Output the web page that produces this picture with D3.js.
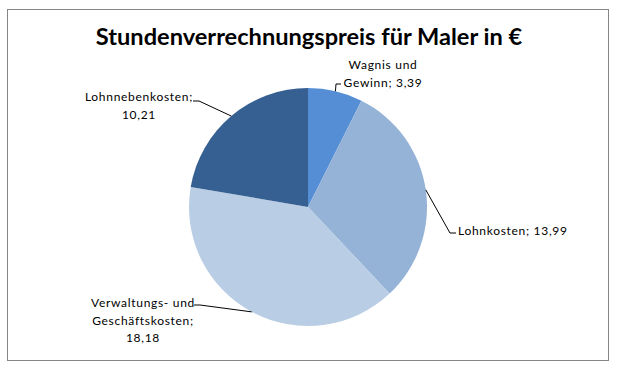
<!DOCTYPE html>
<html>
<head>
<meta charset="utf-8">
<script src="https://cdn.jsdelivr.net/npm/d3@7"></script>
<style>
    body { margin: 0; background: #fff; }
    svg { display: block; }
    .title { font-family: "Lato", "Open Sans", sans-serif; font-weight: bold; font-size: 23.6px; fill: #000; }
    .label { font-family: "Lato", "Open Sans", sans-serif; font-size: 12px; letter-spacing: 0.7px; fill: #000; }
</style>
</head>
<body>
<div id="chart"></div>
<script>
// chart data
var title = "Stundenverrechnungspreis für Maler in €"
var categories = ["Wagnis und Gewinn", "Lohnkosten", "Verwaltungs- und Geschäftskosten", "Lohnnebenkosten"]
var values = [3.39, 13.99, 18.18, 10.21]
var colors = ["#558ed5", "#95b3d7", "#b9cde5", "#376092"]
// words after which a label wraps
var labelBreaks = [[2], [], [2, 3], [1]]

// label layout (anchor point of the text block and the leader elbow)
var labelLayout = [
    { x: 383, y: 69, anchor: "middle", elbow: [[341, 84], [336, 84]] },
    { x: 458, y: 235, anchor: "start", elbow: [[456, 233], [450, 233]] },
    { x: 143, y: 307, anchor: "middle", elbow: [[194, 305], [200, 305]] },
    { x: 139, y: 101, anchor: "middle", elbow: [[193, 101], [199, 101]] }
]

var width = 622, height = 374
var cx = 308, cy = 207, radius = 119
var lineHeight = 17.5

var locale = d3.formatLocale({ decimal: ",", thousands: ".", grouping: [3], currency: ["", " €"] })
var fmt = locale.format(".2f")

var svg = d3.select("#chart").append("svg")
    .attr("width", width)
    .attr("height", height)

svg.append("rect")
    .attr("x", 7.5).attr("y", 9.5)
    .attr("width", 601).attr("height", 351)
    .attr("fill", "#fff")
    .attr("stroke", "#868686")
    .attr("stroke-width", 1)

svg.append("text")
    .attr("class", "title")
    .attr("x", 309)
    .attr("y", 45)
    .attr("text-anchor", "middle")
    .text(title)

var slices = categories.map(function(c, i) {
    return { name: c, value: values[i], color: colors[i], i: i }
})

var pie = d3.pie().sort(null).value(function(d) { return d.value })
var arc = d3.arc().innerRadius(0).outerRadius(radius)
var arcs = pie(slices)

var g = svg.append("g").attr("transform", "translate(" + cx + "," + cy + ")")

g.selectAll("path")
    .data(arcs)
    .enter()
    .append("path")
    .attr("d", arc)
    .attr("fill", function(d) { return d.data.color })
    .attr("stroke", "none")

// leader lines
var line = d3.line()
svg.append("g")
    .selectAll("path")
    .data(arcs)
    .enter()
    .append("path")
    .attr("fill", "none")
    .attr("stroke", "#000")
    .attr("stroke-width", 1)
    .attr("d", function(d) {
        var a = (d.startAngle + d.endAngle) / 2
        var p = [cx + radius * Math.sin(a), cy - radius * Math.cos(a)]
        var el = labelLayout[d.data.i].elbow
        return line([el[0], el[1], p])
    })

// labels
function labelLines(d) {
    var words = (d.data.name + "; " + fmt(d.data.value)).split(" ")
    var breaks = labelBreaks[d.data.i]
    var lines = [], cur = []
    words.forEach(function(w, k) {
        cur.push(w)
        if (breaks.indexOf(k + 1) >= 0) { lines.push(cur.join(" ")); cur = [] }
    })
    if (cur.length) lines.push(cur.join(" "))
    return lines
}

var labels = svg.append("g")
    .selectAll("text")
    .data(arcs)
    .enter()
    .append("text")
    .attr("class", "label")
    .attr("text-anchor", function(d) { return labelLayout[d.data.i].anchor })

labels.each(function(d) {
    var lay = labelLayout[d.data.i]
    d3.select(this).selectAll("tspan")
        .data(labelLines(d))
        .enter()
        .append("tspan")
        .attr("x", lay.x)
        .attr("y", function(t, k) { return lay.y + k * lineHeight })
        .text(function(t) { return t })
})
</script>
</body>
</html>
